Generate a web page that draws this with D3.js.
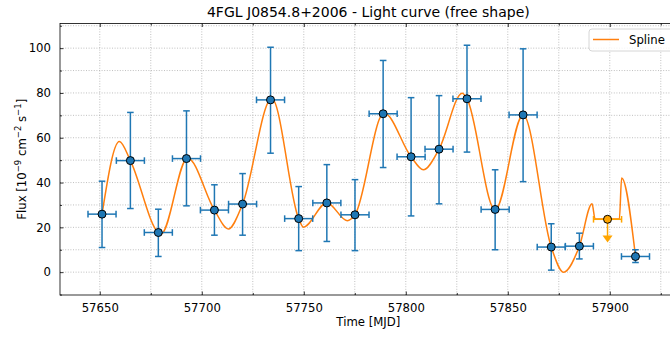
<!DOCTYPE html>
<html>
<head>
<meta charset="utf-8">
<script src="https://cdn.jsdelivr.net/npm/d3@7"></script>
<style>
  body { margin: 0; background: #fff; }
  svg { display: block; font-family: "DejaVu Sans", sans-serif; }
</style>
</head>
<body>
<div id="chart"></div>
<script>
// binned light curve (blue points)
var mjd    = [57651.1, 57665.0, 57678.7, 57692.5, 57706.2, 57720.0, 57733.7, 57747.5, 57761.3, 57775.1,
              57788.9, 57802.6, 57816.3, 57830.0, 57843.8, 57857.5, 57871.3, 57885.1, 57912.6];
var flux   = [25.9, 49.8, 17.7, 50.7, 27.7, 30.4, 76.9, 23.9, 30.9, 25.6,
              70.7, 51.5, 54.9, 77.4, 28.0, 70.2, 11.2, 11.6, 7.0];
var fluxHi = [40.6, 71.3, 28.1, 72.0, 39.0, 44.0, 100.4, 38.2, 48.0, 41.3,
              94.5, 77.9, 78.8, 101.3, 45.7, 99.7, 21.6, 17.4, 10.0];
var fluxLo = [11.0, 28.4, 7.0, 29.6, 16.5, 16.5, 53.1, 9.6, 13.7, 9.6,
              46.7, 25.1, 30.5, 53.6, 10.0, 40.4, 0.9, 5.9, 4.3];
var halfBin = 6.875;

// upper limit bin (orange)
var ulMjd = [57898.9];
var ulFlux = [23.6];
var ulArrowTo = [13.2];

// spline
var splineMjd  = [57651.1, 57659.6, 57665.0, 57678.7, 57680.0, 57693.0, 57706.2, 57713.0, 57720.0, 57734.3,
                  57747.5, 57749.8, 57761.3, 57771.3, 57775.1, 57789.3, 57802.6, 57808.6, 57816.3, 57827.7,
                  57830.0, 57843.8, 57857.5, 57871.3, 57877.3, 57885.1, 57891.3, 57892.8, 57904.7, 57905.8,
                  57912.6];
var splineFlux = [25.9, 58.3, 49.8, 17.7, 17.0, 51.0, 27.7, 19.3, 30.4, 77.5,
                  23.9, 20.1, 31.0, 23.0, 25.6, 71.0, 51.5, 45.7, 54.9, 79.9,
                  77.4, 27.8, 70.3, 11.2, 0.0, 11.6, 30.5, 23.7, 23.7, 42.0,
                  7.0];

var xTicks = [57650, 57700, 57750, 57800, 57850, 57900];
var yTicks = [0, 20, 40, 60, 80, 100];

var W = 670, H = 337;
var margin = {top: 23.5, left: 60, bottom: 42, rightEdge: 676.7};

var blue = "#1f77b4", orange = "#ff7f0e", ulColor = "#ffa500";

var svg = d3.select("#chart").append("svg")
    .attr("width", W).attr("height", H);

var x = d3.scaleLinear().domain([57630.5, 57932.8]).range([margin.left, margin.rightEdge]);
var y = d3.scaleLinear().domain([-10.2, 111.0]).range([H - margin.bottom, margin.top]);

var x0 = x.range()[0], x1 = x.range()[1], y0 = y.range()[0], y1 = y.range()[1];

// grid (dotted, at minor ticks too)
var xGrid = d3.range(57650, 57930, 25);
var yGrid = d3.range(0, 111, 10);
svg.append("g").selectAll("line").data(xGrid).enter().append("line")
    .attr("x1", d => x(d)).attr("x2", d => x(d))
    .attr("y1", y0).attr("y2", y1)
    .attr("stroke", "#b0b0b0").attr("stroke-width", 0.8).attr("stroke-dasharray", "1,1.6");
svg.append("g").selectAll("line").data(yGrid).enter().append("line")
    .attr("x1", x0).attr("x2", x1)
    .attr("y1", d => y(d)).attr("y2", d => y(d))
    .attr("stroke", "#b0b0b0").attr("stroke-width", 0.8).attr("stroke-dasharray", "1,1.6");

// axes, ticks pointing inward on all sides
function styleAxis(g) {
  g.select(".domain").remove();
  g.selectAll("text").attr("font-size", "11.7px").attr("fill", "#000")
    .attr("font-family", "DejaVu Sans, sans-serif");
  g.selectAll("line").attr("stroke", "#000").attr("stroke-width", 0.8);
}
var xMinor = d3.range(57650, 57930, 25).filter(v => xTicks.indexOf(v) < 0);
var yMinor = d3.range(-10, 111, 10).filter(v => yTicks.indexOf(v) < 0);

svg.append("g").attr("transform", "translate(0," + y0 + ")")
  .call(d3.axisBottom(x).tickValues(xTicks).tickFormat(d3.format("d")).tickSizeInner(-3.5).tickPadding(9))
  .call(styleAxis);
svg.append("g").attr("transform", "translate(0," + y0 + ")")
  .call(d3.axisBottom(x).tickValues(xMinor).tickFormat("").tickSizeInner(-2))
  .call(styleAxis);
svg.append("g").attr("transform", "translate(0," + y1 + ")")
  .call(d3.axisTop(x).tickValues(xTicks).tickFormat("").tickSizeInner(-3.5))
  .call(styleAxis);
svg.append("g").attr("transform", "translate(0," + y1 + ")")
  .call(d3.axisTop(x).tickValues(xMinor).tickFormat("").tickSizeInner(-2))
  .call(styleAxis);
svg.append("g").attr("transform", "translate(" + x0 + ",0)")
  .call(d3.axisLeft(y).tickValues(yTicks).tickFormat(d3.format("d")).tickSizeInner(-3.5).tickPadding(9))
  .call(styleAxis);
svg.append("g").attr("transform", "translate(" + x0 + ",0)")
  .call(d3.axisLeft(y).tickValues(yMinor).tickFormat("").tickSizeInner(-2))
  .call(styleAxis);

// spines
svg.append("rect").attr("x", x0).attr("y", y1).attr("width", x1 - x0).attr("height", y0 - y1)
    .attr("fill", "none").attr("stroke", "#000").attr("stroke-width", 0.8);

// spline
var splinePts = splineMjd.map((m, i) => [m, splineFlux[i]]);
svg.append("path").datum(splinePts)
    .attr("d", d3.line().x(d => x(d[0])).y(d => y(d[1])).curve(d3.curveMonotoneX))
    .attr("fill", "none").attr("stroke", orange).attr("stroke-width", 1.5);

// error bars
var cap = 3.3;
var pts = mjd.map((m, i) => ({m: m, f: flux[i], hi: fluxHi[i], lo: fluxLo[i]}));
var eb = svg.append("g").attr("stroke", blue).attr("stroke-width", 1.5).attr("fill", "none");
pts.forEach(function(d) {
  eb.append("line").attr("x1", x(d.m)).attr("x2", x(d.m)).attr("y1", y(d.lo)).attr("y2", y(d.hi));
  eb.append("line").attr("x1", x(d.m - halfBin)).attr("x2", x(d.m + halfBin)).attr("y1", y(d.f)).attr("y2", y(d.f));
  [d.lo, d.hi].forEach(v => eb.append("line").attr("x1", x(d.m) - cap).attr("x2", x(d.m) + cap).attr("y1", y(v)).attr("y2", y(v)));
  [d.m - halfBin, d.m + halfBin].forEach(v => eb.append("line").attr("x1", x(v)).attr("x2", x(v)).attr("y1", y(d.f) - cap).attr("y2", y(d.f) + cap));
});
svg.append("g").selectAll("circle").data(pts).enter().append("circle")
    .attr("cx", d => x(d.m)).attr("cy", d => y(d.f)).attr("r", 4)
    .attr("fill", blue).attr("stroke", "#000").attr("stroke-width", 1);

// upper limit
var ul = svg.append("g").attr("stroke", ulColor).attr("stroke-width", 1.5).attr("fill", "none");
ulMjd.forEach(function(m, i) {
  var f = ulFlux[i];
  ul.append("line").attr("x1", x(m - halfBin)).attr("x2", x(m + halfBin)).attr("y1", y(f)).attr("y2", y(f));
  [m - halfBin, m + halfBin].forEach(v => ul.append("line").attr("x1", x(v)).attr("x2", x(v)).attr("y1", y(f) - cap).attr("y2", y(f) + cap));
  ul.append("line").attr("x1", x(m)).attr("x2", x(m)).attr("y1", y(f)).attr("y2", y(ulArrowTo[i]) - 6);
  var tx = x(m), ty = y(ulArrowTo[i]);
  svg.append("path").attr("d", "M" + (tx - 5) + "," + (ty - 7) + "L" + (tx + 5) + "," + (ty - 7) + "L" + tx + "," + ty + "Z")
      .attr("fill", ulColor).attr("stroke", "none");
  svg.append("circle").attr("cx", x(m)).attr("cy", y(f)).attr("r", 4)
      .attr("fill", ulColor).attr("stroke", "#000").attr("stroke-width", 1);
});

// title and labels
svg.append("text").attr("x", (x0 + x1) / 2).attr("y", 17).attr("text-anchor", "middle")
    .attr("font-size", "14px").text("4FGL J0854.8+2006 - Light curve (free shape)");
svg.append("text").attr("x", (x0 + x1) / 2).attr("y", 326).attr("text-anchor", "middle")
    .attr("font-size", "11.7px").text("Time [MJD]");
var yl = svg.append("text").attr("transform", "translate(25.5," + ((y0 + y1) / 2) + ") rotate(-90)")
    .attr("text-anchor", "middle").attr("font-size", "11.7px");
yl.append("tspan").text("Flux [10");
yl.append("tspan").attr("dy", -4.5).attr("font-size", "8.5px").text("\u22129");
yl.append("tspan").attr("dy", 4.5).text(" cm");
yl.append("tspan").attr("dy", -4.5).attr("font-size", "8.5px").text("\u22122");
yl.append("tspan").attr("dy", 4.5).text(" s");
yl.append("tspan").attr("dy", -4.5).attr("font-size", "8.5px").text("\u22121");
yl.append("tspan").attr("dy", 4.5).text("]");

// legend
var lg = svg.append("g");
lg.append("rect").attr("x", 589).attr("y", 29).attr("width", 84).attr("height", 22).attr("rx", 3)
    .attr("fill", "#fff").attr("fill-opacity", 0.8).attr("stroke", "#cccccc").attr("stroke-width", 0.8);
lg.append("line").attr("x1", 593).attr("x2", 619).attr("y1", 39.5).attr("y2", 39.5)
    .attr("stroke", orange).attr("stroke-width", 1.5);
lg.append("text").attr("x", 629).attr("y", 43.8).attr("font-size", "11.7px").text("Spline");
</script>
</body>
</html>
